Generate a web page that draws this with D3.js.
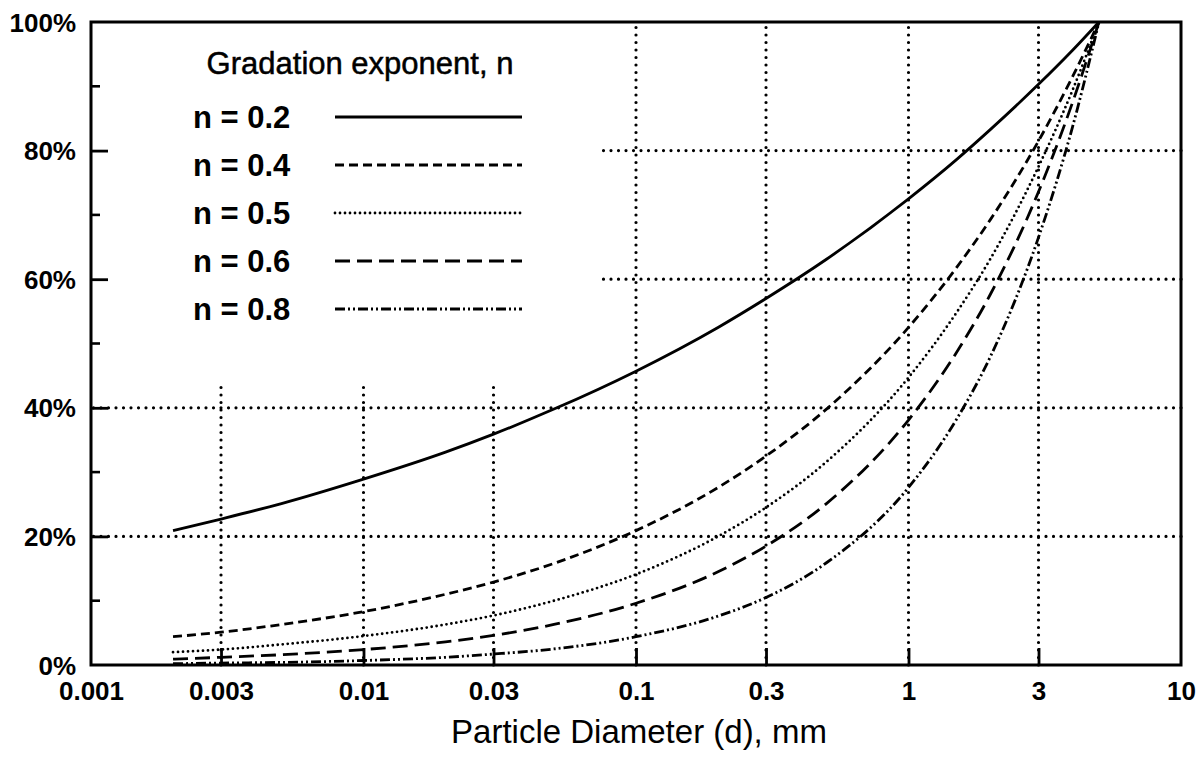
<!DOCTYPE html>
<html>
<head>
<meta charset="utf-8">
<script src="https://cdn.jsdelivr.net/npm/d3@7"></script>
<style>
  body { margin: 0; background: #fff; }
  svg { display: block; font-family: "Liberation Sans", Arial, sans-serif; }
</style>
</head>
<body>
<div id="chart"></div>
<script>
"use strict";

// particle diameters (mm) where the curves were read
var diameters = [0.002, 0.003, 0.005, 0.01, 0.02, 0.03, 0.05, 0.1, 0.2, 0.3, 0.5, 1, 1.5, 2, 3, 4, 5];

// percent passing for each gradation exponent
var passN02 = [20.9, 22.7, 25.1, 28.9, 33.1, 35.9, 39.8, 45.7, 52.5, 57.0, 63.1, 72.5, 78.6, 83.3, 90.3, 95.6, 100];
var passN04 = [4.4, 5.1, 6.3, 8.3, 11.0, 12.9, 15.8, 20.9, 27.6, 32.5, 39.8, 52.5, 61.8, 69.3, 81.5, 91.5, 100];
var passN05 = [2.0, 2.4, 3.2, 4.5, 6.3, 7.7, 10.0, 14.1, 20.0, 24.5, 31.6, 44.7, 54.8, 63.2, 77.5, 89.4, 100];
var passN06 = [0.9, 1.2, 1.6, 2.4, 3.6, 4.6, 6.3, 9.6, 14.5, 18.5, 25.1, 38.1, 48.6, 57.7, 73.6, 87.5, 100];
var passN08 = [0.2, 0.3, 0.4, 0.7, 1.2, 1.7, 2.5, 4.4, 7.6, 10.5, 15.9, 27.6, 38.2, 48.0, 66.5, 83.7, 100];

var seriesNames = ["n = 0.2", "n = 0.4", "n = 0.5", "n = 0.6", "n = 0.8"];
var seriesValues = [passN02, passN04, passN05, passN06, passN08];
var seriesDash = ["none", "9,5", "0,5", "15,7", "10,3,2,3,2,3"];

var xTickValues = [0.001, 0.003, 0.01, 0.03, 0.1, 0.3, 1, 3, 10];
var xTickLabels = ["0.001", "0.003", "0.01", "0.03", "0.1", "0.3", "1", "3", "10"];
var yTickValues = [0, 20, 40, 60, 80, 100];
var yMinorValues = [10, 30, 50, 70, 90];

var margin = { top: 22, right: 18, bottom: 92, left: 91 },
    width = 1199 - margin.left - margin.right,
    height = 757 - margin.top - margin.bottom;

var svg = d3.select("#chart")
            .append("svg")
            .attr("width", 1199)
            .attr("height", 757)
            .append("g")
            .attr("transform", "translate(" + margin.left + "," + margin.top + ")");

var x = d3.scaleLog().domain([0.001, 10]).range([0, width]);
var y = d3.scaleLinear().domain([0, 100]).range([height, 0]);

// legend box blocks the grid in the upper left
var boxRight = 507, boxBottom = 365;

// grid
var grid = svg.append("g")
              .attr("stroke", "#000")
              .attr("stroke-width", 3.2)
              .attr("stroke-linecap", "round")
              .attr("stroke-dasharray", "0,7.5");

grid.selectAll("line.v")
    .data(xTickValues.slice(1, -1))
    .enter()
    .append("line")
    .attr("x1", function(d) { return x(d); })
    .attr("x2", function(d) { return x(d); })
    .attr("y1", height)
    .attr("y2", function(d) { return x(d) < boxRight ? boxBottom : 0; });

grid.selectAll("line.h")
    .data(yTickValues.slice(1, -1))
    .enter()
    .append("line")
    .attr("y1", function(d) { return y(d); })
    .attr("y2", function(d) { return y(d); })
    .attr("x1", width)
    .attr("x2", function(d) { return y(d) < boxBottom ? boxRight : 0; });

// curves
var line = d3.line()
             .x(function(d, i) { return x(diameters[i]); })
             .y(function(d) { return y(d); })
             .curve(d3.curveMonotoneX);

svg.selectAll("path.curve")
   .data(seriesValues)
   .enter()
   .append("path")
   .attr("class", "curve")
   .attr("d", line)
   .attr("fill", "none")
   .attr("stroke", "#000")
   .attr("stroke-width", 2.8)
   .attr("stroke-linecap", function(d, i) { return i == 2 ? "round" : "butt"; })
   .attr("stroke-dasharray", function(d, i) { return seriesDash[i]; });

// axes
var xAxis = d3.axisBottom(x)
              .tickValues(xTickValues)
              .tickSize(-17)
              .tickPadding(17)
              .tickFormat(function(d, i) { return xTickLabels[i]; });

var gx = svg.append("g")
            .attr("transform", "translate(0," + height + ")")
            .call(xAxis);

var yAxis = d3.axisLeft(y)
              .tickValues(yTickValues)
              .tickSize(-17)
              .tickPadding(15)
              .tickFormat(function(d) { return d + "%"; });

var gy = svg.append("g").call(yAxis);

svg.append("g")
   .selectAll("line")
   .data(yMinorValues)
   .enter()
   .append("line")
   .attr("x1", 0)
   .attr("x2", 9)
   .attr("y1", function(d) { return y(d); })
   .attr("y2", function(d) { return y(d); })
   .attr("stroke", "#000")
   .attr("stroke-width", 2.6);

[gx, gy].forEach(function(g) {
  g.select(".domain").remove();
  g.selectAll(".tick line").attr("stroke-width", 2.8);
  g.selectAll(".tick text")
   .attr("font-size", 26)
   .attr("font-weight", "bold")
   .attr("fill", "#000");
});
gx.selectAll(".tick line").filter(function(d) { return d == 0.001 || d == 10; }).remove();
gy.selectAll(".tick line").filter(function(d) { return d == 0 || d == 100; }).remove();
gy.selectAll(".tick text").attr("dy", "0.35em");

// frame
svg.append("rect")
   .attr("width", width)
   .attr("height", height)
   .attr("fill", "none")
   .attr("stroke", "#000")
   .attr("stroke-width", 3);

// axis title
svg.append("text")
   .attr("x", 639 - margin.left)
   .attr("y", height + 78)
   .attr("text-anchor", "middle")
   .attr("font-size", 33)
   .text("Particle Diameter (d), mm");

// legend
var legend = svg.append("g");

legend.append("text")
      .attr("x", 269)
      .attr("y", 52)
      .attr("text-anchor", "middle")
      .attr("font-size", 31)
      .attr("stroke", "#000")
      .attr("stroke-width", 0.5)
      .text("Gradation exponent, n");

var rows = legend.selectAll("g.row")
                 .data(seriesNames)
                 .enter()
                 .append("g")
                 .attr("transform", function(d, i) { return "translate(0," + (95 + i * 48) + ")"; });

rows.append("text")
    .attr("x", 102)
    .attr("dy", "0.36em")
    .attr("font-size", 31)
    .attr("font-weight", "bold")
    .text(function(d) { return d; });

rows.append("line")
    .attr("x1", 244)
    .attr("x2", 431)
    .attr("stroke", "#000")
    .attr("stroke-width", 2.8)
    .attr("stroke-linecap", function(d, i) { return i == 2 ? "round" : "butt"; })
    .attr("stroke-dasharray", function(d, i) { return seriesDash[i]; });
</script>
</body>
</html>
